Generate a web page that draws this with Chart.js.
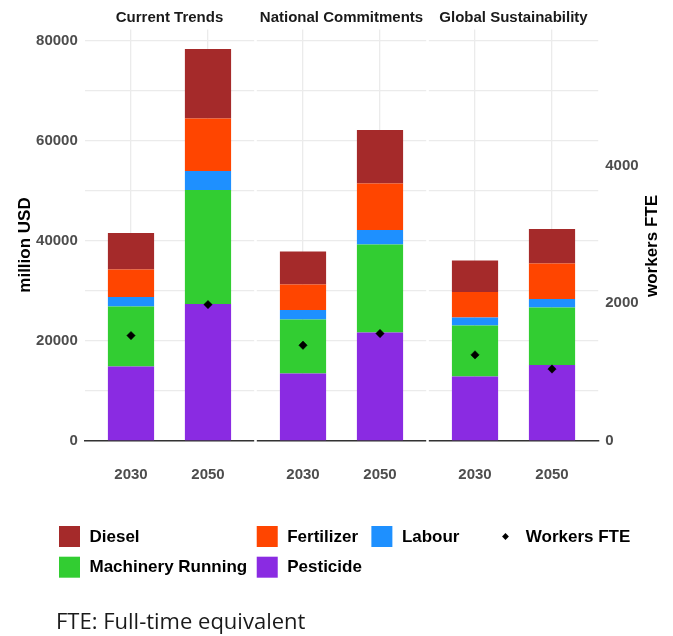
<!DOCTYPE html>
<html>
<head>
<meta charset="utf-8">
<script src="https://cdn.jsdelivr.net/npm/chart.js@4.4.0/dist/chart.umd.min.js"></script>
<style>
  html, body { margin: 0; padding: 0; background: #ffffff; }
  #wrap { position: relative; width: 673px; height: 636px; }
</style>
</head>
<body>
<div id="wrap"><canvas id="costChart"></canvas></div>
<script>
const scenarios = ['Current Trends', 'National Commitments', 'Global Sustainability'];
const years = ['2030', '2050'];

// million USD, order: CT 2030, CT 2050, NC 2030, NC 2050, GS 2030, GS 2050
const pesticide  = [14900, 27400, 13500, 21700, 12900, 15200];
const machinery  = [12000, 22800, 10800, 17600, 10200, 11500];
const labour     = [1900, 3800, 1900, 2900, 1600, 1700];
const fertilizer = [5500, 10500, 5100, 9300, 5100, 7100];
const diesel     = [7300, 13900, 6600, 10700, 6300, 6900];
// workers FTE (right axis)
const workersFTE = [1530, 1980, 1390, 1560, 1250, 1045];

const yTicksLeft = [0, 20000, 40000, 60000, 80000];
const yTicksRight = [0, 2000, 4000];

const costSeries = [
    { label: 'Pesticide', data: pesticide, color: '#8A2BE2' },
    { label: 'Machinery Running', data: machinery, color: '#32CD32' },
    { label: 'Labour', data: labour, color: '#1E90FF' },
    { label: 'Fertilizer', data: fertilizer, color: '#FF4500' },
    { label: 'Diesel', data: diesel, color: '#A52A2A' }
];
const legendOrder = ['Diesel', 'Fertilizer', 'Labour', 'Machinery Running', 'Pesticide'];

// facet layout (in category units, like ggplot's discrete scale)
const panelWidth = 2.2, panelGap = 0.034, panelStep = panelWidth + panelGap;
const xMax = scenarios.length * panelWidth + (scenarios.length - 1) * panelGap;
const barX = [];
scenarios.forEach((s, p) => years.forEach((y, j) => barX.push(p * panelStep + 0.6 + j)));

const yMax = 82300;
const usdPerWorker = 13.78;

// major ticks plus the unlabeled minor gridlines halfway between them
const yGridLeft = [];
yTicksLeft.forEach((v, i) => {
    yGridLeft.push(v);
    if (i < yTicksLeft.length - 1) yGridLeft.push((v + yTicksLeft[i + 1]) / 2);
});

const tickFont = { family: '"Liberation Sans", Arial, sans-serif', size: 15, weight: 'bold' };
const tickColor = '#4d4d4d';
const gridColor = '#ebebeb';
const boldFont = (px) => `bold ${px}px "Liberation Sans", Arial, sans-serif`;

const facetPlugin = {
    id: 'facetPlugin',
    beforeDatasetsDraw: (chart) => {
        const { ctx, chartArea: { top, bottom }, scales: { x } } = chart;
        ctx.save();
        ctx.fillStyle = '#ffffff';
        for (let p = 0; p < scenarios.length - 1; p++) {
            const x0 = x.getPixelForValue(p * panelStep + panelWidth);
            const x1 = x.getPixelForValue((p + 1) * panelStep);
            ctx.fillRect(x0, top - 2, x1 - x0, bottom - top + 4);
        }
        ctx.restore();
    },
    afterDraw: (chart) => {
        const { ctx, scales: { x } } = chart;
        ctx.save();

        // strip titles
        ctx.fillStyle = '#1a1a1a';
        ctx.font = boldFont(15);
        ctx.textAlign = 'center';
        ctx.textBaseline = 'middle';
        scenarios.forEach((s, p) => {
            ctx.fillText(s, x.getPixelForValue(p * panelStep + panelWidth / 2), 18);
        });

        // axis titles
        ctx.fillStyle = '#000000';
        ctx.font = boldFont(17);
        [['million USD', 25, 245], ['workers FTE', 652.5, 246]].forEach(([t, tx, ty]) => {
            ctx.save();
            ctx.translate(tx, ty);
            ctx.rotate(-Math.PI / 2);
            ctx.fillText(t, 0, 0);
            ctx.restore();
        });

        // legend (2 rows, filled by row like ggplot)
        ctx.font = boldFont(17);
        ctx.textAlign = 'left';
        const items = legendOrder.map(n => costSeries.find(s => s.label === n));
        const ncol = 3, key = 21, rowY = [526, 556.7];
        let lx = 59;
        for (let c = 0; c < ncol; c++) {
            let maxW = 0;
            for (let r = 0; r * ncol + c < items.length; r++) {
                const it = items[r * ncol + c];
                ctx.fillStyle = it.color;
                ctx.fillRect(lx, rowY[r], key, key);
                ctx.fillStyle = '#000000';
                ctx.fillText(it.label, lx + key + 9.5, rowY[r] + key / 2 + 0.5);
                maxW = Math.max(maxW, ctx.measureText(it.label).width);
            }
            lx += key + 9.5 + maxW + (c < ncol - 1 ? 9.5 : 0);
        }
        // shape legend for workers
        const kx = lx + 35.5;
        const cx = kx + key / 2, cy = rowY[0] + key / 2;
        ctx.fillStyle = '#000000';
        ctx.beginPath();
        ctx.moveTo(cx - 3.4, cy); ctx.lineTo(cx, cy - 3.4);
        ctx.lineTo(cx + 3.4, cy); ctx.lineTo(cx, cy + 3.4);
        ctx.closePath();
        ctx.fill();
        ctx.fillText('Workers FTE', kx + key + 9.8, cy + 0.5);

        // footnote
        ctx.font = '22px "Open Sans", sans-serif';
        ctx.fillStyle = '#1a1a1a';
        ctx.textBaseline = 'alphabetic';
        ctx.fillText('FTE: Full-time equivalent', 56, 629.3);

        ctx.restore();
    }
};

const datasets = costSeries.map(s => ({
    type: 'bar',
    label: s.label,
    data: s.data.map((v, i) => ({ x: barX[i], y: v })),
    backgroundColor: s.color,
    borderWidth: 0,
    categoryPercentage: 1,
    barPercentage: 0.6,
    yAxisID: 'y',
    order: 1
}));
datasets.push({
    type: 'line',
    label: 'Workers FTE',
    data: workersFTE.map((v, i) => ({ x: barX[i], y: v })),
    showLine: false,
    pointStyle: 'rectRot',
    pointRadius: 4.2,
    pointBackgroundColor: '#000000',
    pointBorderColor: '#000000',
    pointBorderWidth: 0.5,
    yAxisID: 'y2',
    order: 0
});

new Chart(document.getElementById('costChart'), {
    type: 'bar',
    data: { datasets: datasets },
    options: {
        responsive: true,
        maintainAspectRatio: false,
        animation: false,
        events: [],
        layout: { padding: { top: 29.5, bottom: 155, left: 0, right: 0 } },
        scales: {
            x: {
                type: 'linear',
                min: 0,
                max: xMax,
                offset: false,
                stacked: true,
                grid: { offset: false, color: gridColor, lineWidth: 1.3, drawTicks: false },
                border: { display: true, color: '#333333', width: 1.5 },
                afterBuildTicks: (axis) => { axis.ticks = barX.map(v => ({ value: v })); },
                afterFit: (axis) => { axis.height = 40; },
                ticks: {
                    autoSkip: false, maxRotation: 0, padding: 25,
                    color: tickColor, font: tickFont,
                    callback: (v, i) => years[i % years.length]
                }
            },
            y: {
                position: 'left',
                stacked: true,
                min: 0,
                max: yMax,
                grid: { color: gridColor, lineWidth: 1.3, drawTicks: false },
                border: { display: false },
                afterFit: (axis) => { axis.width = 84.8; },
                afterBuildTicks: (axis) => { axis.ticks = yGridLeft.map(v => ({ value: v })); },
                ticks: {
                    autoSkip: false, padding: 7,
                    color: tickColor, font: tickFont,
                    callback: (v) => yTicksLeft.includes(v) ? String(v) : ''
                }
            },
            y2: {
                position: 'right',
                min: 0,
                max: yMax / usdPerWorker,
                grid: { display: false, drawTicks: false },
                border: { display: false },
                afterFit: (axis) => { axis.width = 673 - 598.2; },
                afterBuildTicks: (axis) => { axis.ticks = yTicksRight.map(v => ({ value: v })); },
                ticks: {
                    autoSkip: false, padding: 7,
                    color: tickColor, font: tickFont,
                    callback: (v) => String(v)
                }
            }
        },
        plugins: {
            legend: { display: false },
            tooltip: { enabled: false }
        }
    },
    plugins: [facetPlugin]
});
</script>
</body>
</html>
